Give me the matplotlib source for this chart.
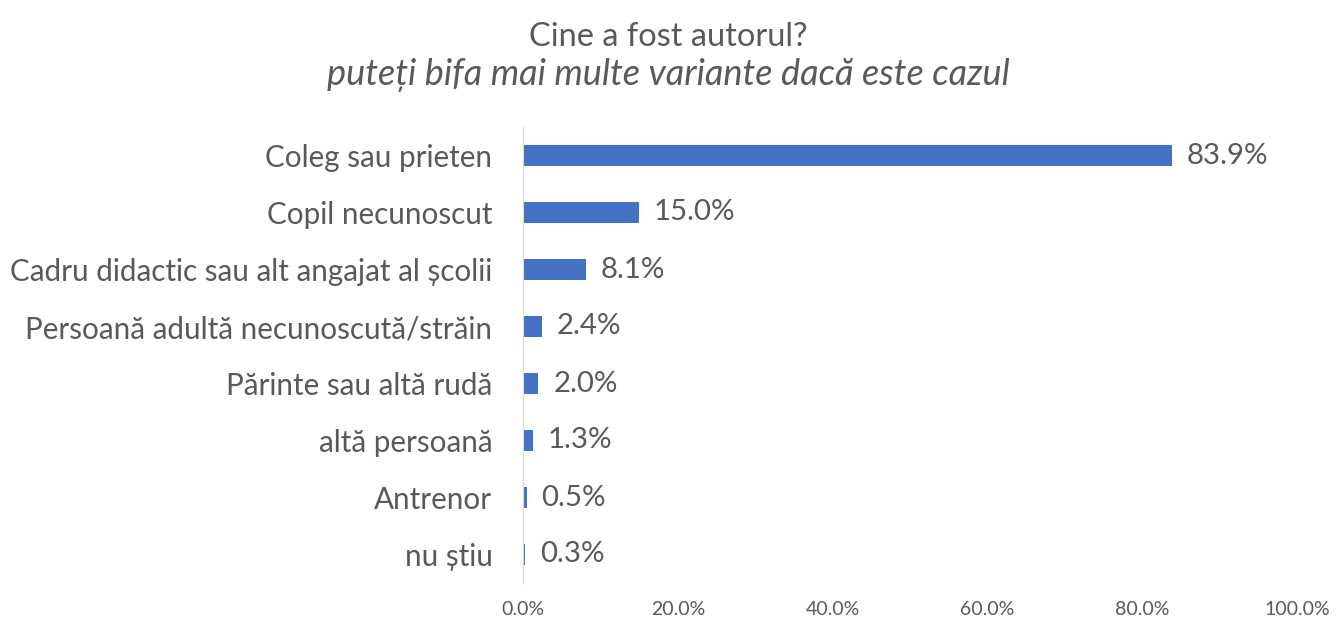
import matplotlib
matplotlib.use("Agg")
import matplotlib.pyplot as plt
from matplotlib.ticker import FuncFormatter

categories = ["Coleg sau prieten", "Copil necunoscut", "Cadru didactic sau alt angajat al școlii",
              "Persoană adultă necunoscută/străin", "Părinte sau altă rudă", "altă persoană",
              "Antrenor", "nu știu"]
values = [83.9, 15.0, 8.1, 2.4, 2.0, 1.3, 0.5, 0.3]
title_main = "Cine a fost autorul?"
title_sub = "puteți bifa mai multe variante dacă este cazul"

plt.rcParams['font.family'] = ['Lato', 'DejaVu Sans']
txt = "#595959"

fig = plt.figure(figsize=(13.37, 6.23), dpi=100)
ax = fig.add_axes([523/1337, 1-583/623, (1297-523)/1337, (583-127)/623])

y = list(range(len(categories)))
ax.barh(y, values, height=0.36, color="#4472C4")
ax.set_ylim(len(categories)-0.5, -0.5)
ax.set_xlim(0, 100)
ax.set_xticks([0, 20, 40, 60, 80, 100])
ax.xaxis.set_major_formatter(FuncFormatter(lambda v, p: f"{v:.1f}%"))
ax.set_yticks(y)
ax.set_yticklabels(categories, fontsize=21.3, color=txt)
ax.tick_params(axis='x', labelsize=14, colors=txt, length=0, pad=13)
ax.tick_params(axis='y', length=0, pad=22)
for s in ["top", "right", "bottom"]:
    ax.spines[s].set_visible(False)
ax.spines["left"].set_color("#D9D9D9")

for yi, v in zip(y, values):
    ax.text(v + 1.9, yi, f"{v:.1f}%", va="center", ha="left", fontsize=21.2, color=txt)

fig.text(0.5, 1-37/623, title_main, ha="center", va="center", fontsize=23.4, color=txt)
fig.text(0.5, 1-75/623, title_sub, ha="center", va="center", fontsize=26, color=txt, style="italic")

fig.savefig("out.png", dpi=100)
